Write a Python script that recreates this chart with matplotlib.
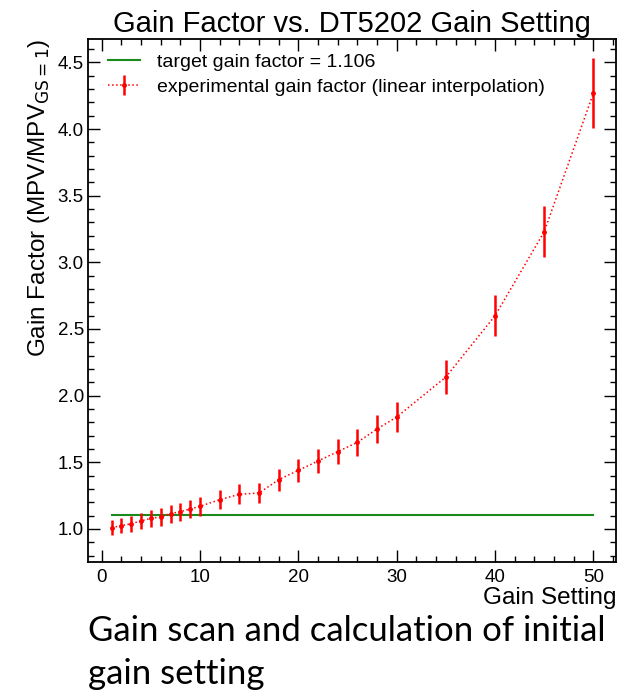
import numpy as np
import matplotlib
matplotlib.use('Agg')
import matplotlib.pyplot as plt
from matplotlib.ticker import MultipleLocator

# gain scan data
gain_setting = [1, 2, 3, 4, 5, 6, 7, 8, 9, 10, 12, 14, 16, 18, 20, 22, 24, 26, 28, 30, 35, 40, 45, 50]
gain_factor = [1.01, 1.025, 1.04, 1.06, 1.08, 1.09, 1.115, 1.13, 1.15, 1.17, 1.22, 1.26, 1.27, 1.37,
               1.44, 1.51, 1.58, 1.65, 1.75, 1.84, 2.14, 2.60, 3.23, 4.27]
gain_err = [0.055, 0.058, 0.06, 0.062, 0.064, 0.065, 0.067, 0.068, 0.069, 0.07, 0.073, 0.075, 0.076, 0.082,
            0.085, 0.09, 0.095, 0.099, 0.105, 0.11, 0.128, 0.154, 0.19, 0.26]
target_gain = 1.106
target_range = [1, 50]

plt.rcParams['font.family'] = ['Liberation Sans', 'DejaVu Sans']

fig = plt.figure(figsize=(6.36, 6.93), dpi=100)
ax = fig.add_axes([0.1384, 0.189, 0.8302, 0.7547])

ax.plot(target_range, [target_gain, target_gain], color='#1a8a1a', lw=1.5,
        label='target gain factor = 1.106')
ax.errorbar(gain_setting, gain_factor, yerr=gain_err, color='red', ls=':', lw=1.1,
            marker='o', ms=2.5, elinewidth=1.8, capsize=0,
            label='experimental gain factor (linear interpolation)')

ax.set_xlim(-1.4, 52.3)
ax.set_ylim(0.752, 4.675)
ax.xaxis.set_major_locator(MultipleLocator(10))
ax.xaxis.set_minor_locator(MultipleLocator(2))
ax.yaxis.set_major_locator(MultipleLocator(0.5))
ax.yaxis.set_minor_locator(MultipleLocator(0.1))
ax.tick_params(which='both', direction='in', top=True, right=True, labelsize=13.5)
ax.tick_params(axis='x', pad=5)
ax.tick_params(axis='y', pad=3)
ax.tick_params(which='major', length=8.6, width=1)
ax.tick_params(which='minor', length=4.3, width=1)
for s in ax.spines.values():
    s.set_linewidth(1.3)

ax.set_title('Gain Factor vs. DT5202 Gain Setting', fontsize=21, pad=5)
ax.set_xlabel('Gain Setting', fontsize=17.5, loc='right', labelpad=1)
ax.set_ylabel('Gain Factor (MPV/MPV$_{\\mathrm{GS=1}}$)', fontsize=17.5, loc='top', labelpad=4)

ax.legend(loc='upper left', frameon=False, fontsize=14, handlelength=1.65,
          handletextpad=0.85, labelspacing=0.35, borderpad=0, borderaxespad=0,
          bbox_to_anchor=(0.038, 0.972))

# caption under the plot
fig.text(0.138, 0.09, 'Gain scan and calculation of initial', fontsize=25,
         family=['Lato', 'DejaVu Sans'], va='center')
fig.text(0.138, 0.028, 'gain setting', fontsize=25,
         family=['Lato', 'DejaVu Sans'], va='center')

fig.savefig('out.png', dpi=100)
